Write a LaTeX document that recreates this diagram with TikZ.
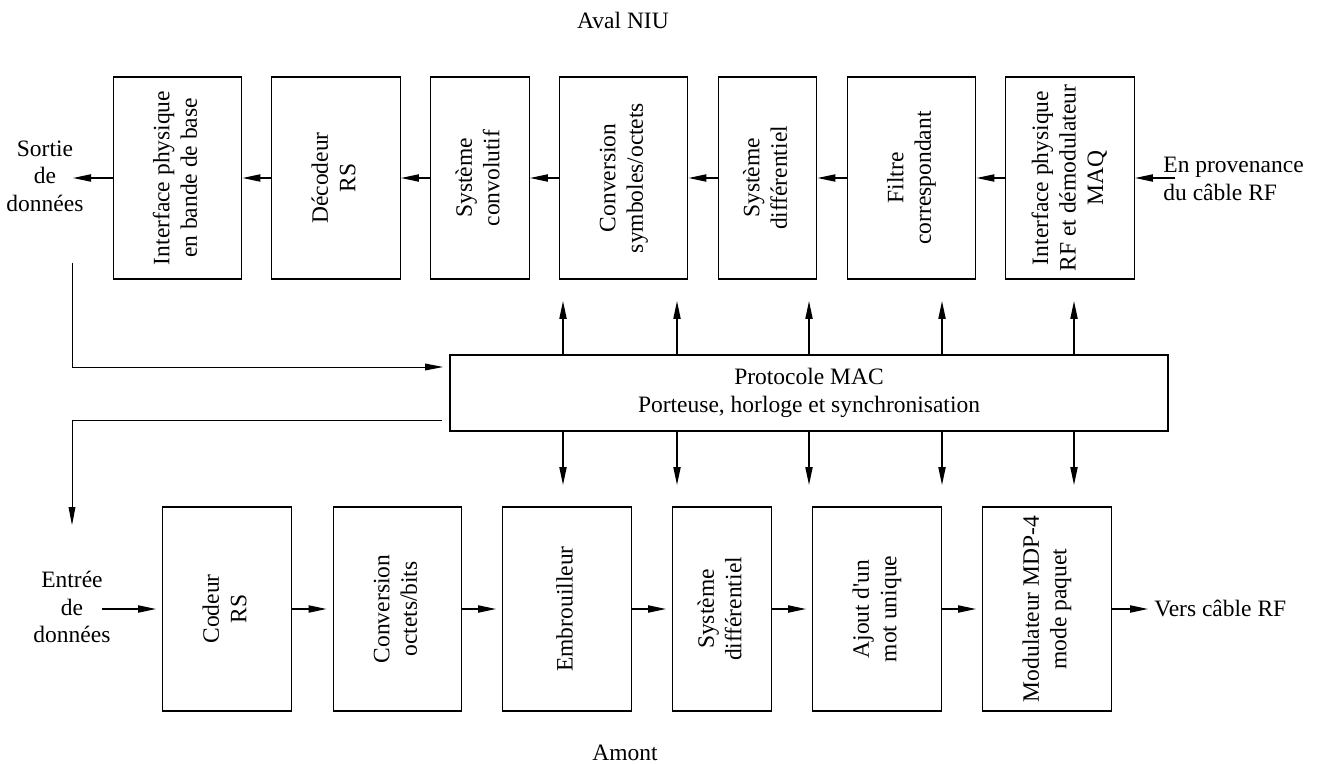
\documentclass[tikz,border=0pt]{standalone}
\usepackage{fontspec}
\setmainfont{Liberation Serif}
\usetikzlibrary{arrows.meta,calc}
% vertical (rotated) multi-line label for the blocks
\newcommand{\vlab}[1]{\rotatebox{90}{\begin{tabular}{@{}c@{}}#1\end{tabular}}}
\begin{document}
\begin{tikzpicture}[x=0.5pt,y=-0.5pt,
  font=\fontsize{11.75}{13.75}\selectfont,
  box/.style={draw,line width=0.7pt,inner sep=0pt},
  topbox/.style={box,minimum height=101pt},
  botbox/.style={box,minimum height=102pt},
  wide/.style={minimum width=64.25pt},
  narrow/.style={minimum width=49.25pt},
  lbl/.style={inner sep=0pt},
  arr/.style={line width=0.7pt,-{Triangle[length=9pt,width=3.6pt]}},
  thinarr/.style={line width=0.45pt,-{Triangle[length=9pt,width=3.4pt]}}]
\useasboundingbox (0,0) rectangle (1321,764);

% titles
\node[lbl] (aval) at (623,20) {Aval NIU};
\node[lbl] (amont) at (625,753) {Amont};

% downstream chain (right to left)
\node[topbox,wide]   (t1) at (177.5,178) {\vlab{Interface physique\\en bande de base}};
\node[topbox,wide]   (t2) at (336,178)   {\vlab{Décodeur\\RS}};
\node[topbox,narrow] (t3) at (480,178)   {\vlab{Système\\convolutif}};
\node[topbox,wide]   (t4) at (623.5,178) {\vlab{Conversion\\symboles/octets}};
\node[topbox,narrow] (t5) at (767.5,178) {\vlab{Système\\différentiel}};
\node[topbox,wide]   (t6) at (911.5,178) {\vlab{Filtre\\correspondant}};
\node[topbox,wide]   (t7) at (1070,178)  {\vlab{Interface physique\\RF et démodulateur\\MAQ}};

% MAC block
\node[box,minimum width=359pt,minimum height=38pt,align=center] (mac) at (809,393)
  {Protocole MAC\\Porteuse, horloge et synchronisation};

% upstream chain (left to right)
\node[botbox,wide]   (b1) at (227,609)   {\vlab{Codeur\\RS}};
\node[botbox,wide]   (b2) at (397.5,609) {\vlab{Conversion\\octets/bits}};
\node[botbox,wide]   (b3) at (567,609)   {\vlab{Embrouilleur}};
\node[botbox,narrow] (b4) at (722,609)   {\vlab{Système\\différentiel}};
\node[botbox,wide]   (b5) at (877,609)   {\vlab{Ajout d\textquotesingle un\\mot unique}};
\node[botbox,wide]   (b6) at (1047,609)  {\vlab{Modulateur MDP-4\\mode paquet}};

% side labels
\node[lbl,align=center] (sortie) at (45,176) {Sortie\\de\\données};
\node[lbl,align=center] (entree) at (72,607) {Entrée\\de\\données};
\node[lbl,align=left,anchor=west] (prov) at (1163,179) {En provenance\\du câble RF};
\node[lbl,anchor=west] (vers) at (1154,608) {Vers câble RF};

% free ends of connectors
\coordinate (sortieend) at (73,178);
\coordinate (provstart) at (1175,178);
\coordinate (entreestart) at (102,609);
\coordinate (versend) at (1148,609);
\coordinate (fbtop) at (72,263);
\coordinate (intomac) at (443,367);
\coordinate (outofmac) at (442,420);
\coordinate (fbend) at (72,525);

% downstream arrows
\draw[arr] (provstart) -- (t7.east);
\draw[arr] (t7.west) -- (t6.east);
\draw[arr] (t6.west) -- (t5.east);
\draw[arr] (t5.west) -- (t4.east);
\draw[arr] (t4.west) -- (t3.east);
\draw[arr] (t3.west) -- (t2.east);
\draw[arr] (t2.west) -- (t1.east);
\draw[arr] (t1.west) -- (sortieend);

% upstream arrows
\draw[arr,shorten >=3pt] (entreestart) -- (b1.west);
\draw[arr,shorten >=3pt] (b1.east) -- (b2.west);
\draw[arr,shorten >=3pt] (b2.east) -- (b3.west);
\draw[arr,shorten >=3pt] (b3.east) -- (b4.west);
\draw[arr,shorten >=3pt] (b4.east) -- (b5.west);
\draw[arr,shorten >=3pt] (b5.east) -- (b6.west);
\draw[arr] (b6.east) -- (versend);

% control arrows from the MAC block
\foreach \x [count=\i] in {563,677,809,942,1074} {
  \coordinate (up\i) at (\x,301);
  \coordinate (dn\i) at (\x,485);
  \draw[arr] (mac.north -| up\i) -- (up\i);
  \draw[arr] (mac.south -| dn\i) -- (dn\i);
}

% data loop through the MAC block
\draw[thinarr] (fbtop) |- (intomac);
\draw[thinarr] (outofmac) -| (fbend);
\end{tikzpicture}
\end{document}
